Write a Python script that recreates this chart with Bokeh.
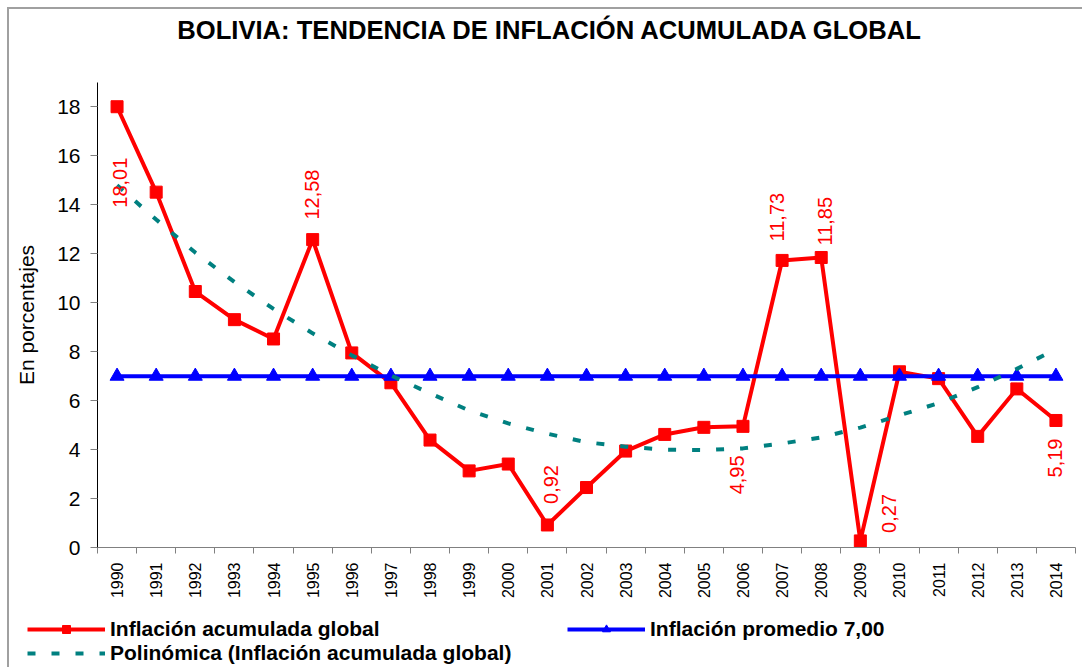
import math
from bokeh.plotting import figure
from bokeh.layouts import column
from bokeh.models import Range1d, FixedTicker, Legend, LegendItem, ColumnDataSource, Label
from bokeh.embed import file_html
from bokeh.resources import INLINE
from bokeh.core.properties import value

# ---------------- data ----------------
years = [1990, 1991, 1992, 1993, 1994, 1995, 1996, 1997, 1998, 1999,
         2000, 2001, 2002, 2003, 2004, 2005, 2006, 2007, 2008, 2009,
         2010, 2011, 2012, 2013, 2014]
inflation = [18.01, 14.52, 10.46, 9.31, 8.52, 12.58, 7.95, 6.73, 4.39, 3.13,
             3.41, 0.92, 2.45, 3.94, 4.62, 4.91, 4.95, 11.73, 11.85, 0.27,
             7.18, 6.90, 4.54, 6.48, 5.19]
average = [7.00] * 25
trend = [14.8, 13.4, 12.05, 10.85, 9.75, 8.75, 7.85, 7.03, 6.3, 5.6,
         5.07, 4.65, 4.3, 4.12, 4.0, 3.98, 4.05, 4.25, 4.5, 4.9,
         5.4, 5.9, 6.55, 7.3, 8.1]
label_years = [1990, 1995, 2001, 2006, 2007, 2008, 2009, 2014]
y_ticks = [0, 2, 4, 6, 8, 10, 12, 14, 16, 18]

title_text = "BOLIVIA: TENDENCIA DE INFLACIÓN ACUMULADA GLOBAL"
y_label = "En porcentajes"
legend_red = "Inflación acumulada global"
legend_blue = "Inflación promedio 7,00"
legend_teal = "Polinómica (Inflación acumulada global)"

# label placement offsets (screen px) relative to the point
label_dx = [3, -1, 4, -6, -5, 4, 29, -1]
label_dy = [101, -20, -21, 68, -19, -12, -8, 57]

# ---------------- build ----------------
FONT = "Liberation Sans"
RED = "#FF0000"
BLUE = "#0000FF"
TEAL = "#008080"
W = 1073
LEFT = 88
RIGHT = 7

xs = [i + 0.5 for i in range(len(years))]
src = ColumnDataSource(dict(x=xs, infl=inflation, avg=average, trend=trend))

lab_idx = [years.index(y) for y in label_years]
lab_src = ColumnDataSource(dict(
    x=[xs[i] for i in lab_idx],
    y=[inflation[i] for i in lab_idx],
    t=[f"{inflation[i]:.2f}".replace(".", ",") for i in lab_idx],
    dx=label_dx, dy=label_dy,
))


def strip(h, left, right):
    f = figure(width=W, height=h, x_range=Range1d(0, 1), y_range=Range1d(100, 101),
               output_backend="svg", toolbar_location=None,
               x_axis_type=None, y_axis_type=None,
               min_border_left=left, min_border_right=right, min_border_top=0, min_border_bottom=0)
    f.grid.visible = False
    f.outline_line_color = None
    return f


# ---------------- title strip ----------------
tp = strip(73, LEFT, RIGHT)
tp.add_layout(Label(x=453, y=53, x_units="screen", y_units="screen", text=title_text,
                    text_align="center", text_baseline="middle",
                    text_font=FONT, text_font_size="25.6px", text_font_style="bold",
                    text_color="black"))

# ---------------- main plot ----------------
p = figure(width=W, height=525, x_range=Range1d(0, len(years)), y_range=Range1d(0, 19),
           output_backend="svg", toolbar_location=None,
           min_border_left=LEFT, min_border_right=RIGHT, min_border_top=0, min_border_bottom=60)

p.xgrid.visible = False
p.ygrid.visible = False
p.outline_line_color = None

# y axis
p.yaxis.ticker = FixedTicker(ticks=y_ticks)
p.yaxis.axis_line_color = "black"
p.yaxis.major_tick_out = 7
p.yaxis.major_tick_in = 0
p.yaxis.major_tick_line_color = "#808080"
p.yaxis.minor_tick_line_color = None
p.yaxis.major_label_text_font = FONT
p.yaxis.major_label_text_font_size = "21px"
p.yaxis.major_label_text_color = "black"
p.yaxis.major_label_standoff = 10
p.yaxis.axis_label = y_label
p.yaxis.axis_label_text_font = FONT
p.yaxis.axis_label_text_font_size = "21px"
p.yaxis.axis_label_text_font_style = "normal"
p.yaxis.axis_label_text_color = "black"
p.yaxis.axis_label_standoff = 16

# x axis
p.xaxis.ticker = FixedTicker(ticks=xs, minor_ticks=list(range(len(years) + 1)))
p.xaxis.major_label_overrides = {x: str(y) for x, y in zip(xs, years)}
p.xaxis.axis_line_color = "#808080"
p.xaxis.major_tick_out = 0
p.xaxis.major_tick_in = 0
p.xaxis.minor_tick_out = 6
p.xaxis.minor_tick_in = 0
p.xaxis.minor_tick_line_color = "#808080"
p.xaxis.major_label_orientation = math.pi / 2
p.xaxis.major_label_text_font = FONT
p.xaxis.major_label_text_font_size = "16px"
p.xaxis.major_label_text_color = "black"
p.xaxis.major_label_standoff = 9

# series
p.line("x", "infl", source=src, line_color=RED, line_width=4)
p.scatter("x", "infl", source=src, marker="square", size=12, fill_color=RED, line_color=RED)
p.line("x", "avg", source=src, line_color=BLUE, line_width=4)
p.scatter("x", "avg", source=src, marker="triangle", size=14, fill_color=BLUE, line_color=BLUE)
p.line("x", "trend", source=src, line_color=TEAL, line_width=4, line_dash="8 16")

p.text("x", "y", text="t", source=lab_src, angle=math.pi / 2,
       x_offset="dx", y_offset="dy",
       text_align="left", text_baseline="middle",
       text_color=RED, text_font=value(FONT), text_font_size="20px")

# ---------------- legend strip (separate root, own frame spanning full width) ----------------
# proxies use the same data but lie outside this strip's view range (legend only)
lp = strip(60, 0, 0)
lp.styles = {"margin-left": "7px", "border-left": "2px solid #a0a0a0"}
lr_line = lp.line("x", "infl", source=src, line_color=RED, line_width=4)
lr_sq = lp.scatter("x", "infl", source=src, marker="square", size=12, fill_color=RED, line_color=RED)
lt_line = lp.line("x", "trend", source=src, line_color=TEAL, line_width=4, line_dash="8 16")
lb_line = lp.line("x", "avg", source=src, line_color=BLUE, line_width=4)
lb_tri = lp.scatter("x", "avg", source=src, marker="triangle", size=14, fill_color=BLUE, line_color=BLUE)

legend = Legend(items=[
    LegendItem(label=legend_red, renderers=[lr_line, lr_sq]),
    LegendItem(label=legend_teal, renderers=[lt_line]),
    LegendItem(label=legend_blue, renderers=[lb_line, lb_tri]),
], orientation="vertical", nrows=2)
legend.location = (18, 2)
legend.padding = 0
legend.margin = 0
legend.spacing = 0
legend.border_line_color = None
legend.background_fill_alpha = 0
legend.glyph_width = 78
legend.glyph_height = 20
legend.label_height = 20
legend.label_width = 457
legend.label_standoff = 5
legend.label_text_font = FONT
legend.label_text_font_size = "21px"
legend.label_text_font_style = "bold"
legend.label_text_line_height = 0.8
legend.label_text_color = "black"
legend.label_text_baseline = "middle"
lp.add_layout(legend, "center")

top = column(tp, p, spacing=0,
             styles={"margin-left": "7px", "margin-top": "7px",
                     "border-left": "2px solid #a0a0a0", "border-top": "2px solid #a0a0a0"})

open("out.html", "w").write(file_html([top, lp], INLINE))
